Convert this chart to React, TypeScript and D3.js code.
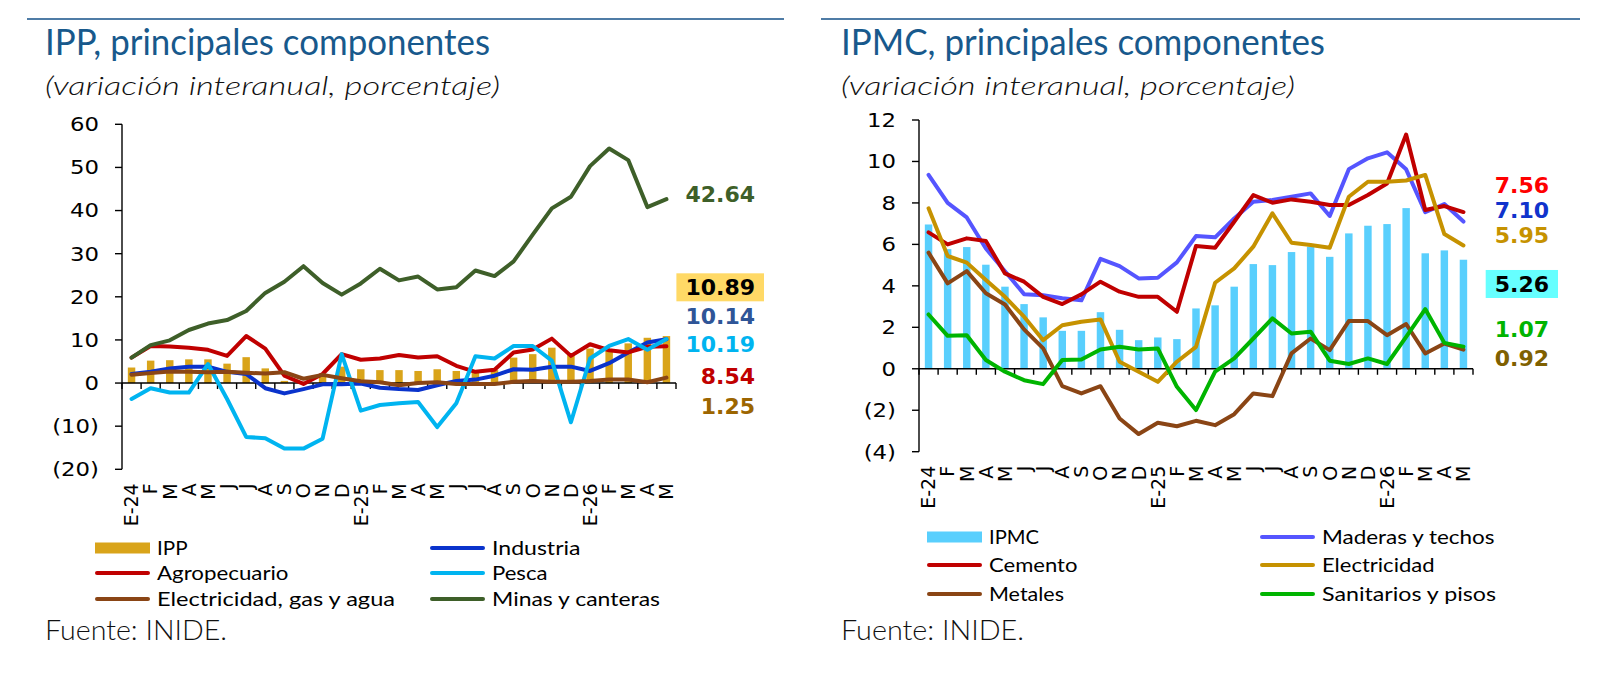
import React from "react";
import * as d3 from "d3";

// ---------- data ----------
const months = ["E-24","F","M","A","M","J","J","A","S","O","N","D","E-25","F","M","A","M","J","J","A","S","O","N","D","E-26","F","M","A","M"];

const ippTicks = [60, 50, 40, 30, 20, 10, 0, -10, -20];
const ipp = [3.6, 5.2, 5.3, 5.5, 5.5, 4.5, 6.0, 3.4, 0.5, 0.3, 1.4, 3.8, 3.2, 3.0, 3.0, 2.8, 3.2, 2.8, 2.5, 3.0, 5.9, 6.7, 8.2, 6.5, 8.0, 7.5, 9.2, 10.5, 10.89];
const industria = [2.1, 2.6, 3.4, 3.8, 3.8, 2.6, 2.1, -1.2, -2.4, -1.4, -0.3, -0.3, -0.1, -1.1, -1.4, -1.6, -0.5, 0.5, 0.8, 1.7, 3.2, 3.1, 3.8, 3.8, 2.8, 4.6, 7.1, 9.4, 10.14];
const agropecuario = [5.9, 8.6, 8.5, 8.2, 7.7, 6.3, 10.9, 8.0, 1.7, -0.2, 2.1, 6.7, 5.4, 5.7, 6.5, 5.9, 6.2, 4.0, 2.6, 3.1, 7.1, 7.8, 10.3, 6.3, 9.0, 7.6, 7.1, 8.4, 8.54];
const pesca = [-3.7, -1.2, -2.2, -2.2, 4.4, -3.7, -12.5, -12.8, -15.2, -15.2, -12.9, 6.7, -6.4, -5.1, -4.7, -4.4, -10.2, -4.7, 6.2, 5.7, 8.6, 8.6, 5.2, -9.1, 5.7, 8.6, 10.2, 7.7, 10.19];
const electricidadGasAgua = [1.9, 2.3, 2.7, 2.6, 2.5, 2.6, 2.4, 2.2, 2.5, 1.0, 1.9, 1.1, 0.4, 0.2, -0.5, 0.0, 0.2, -0.2, -0.2, -0.2, 0.3, 0.5, 0.3, 0.3, 0.5, 0.8, 0.8, 0.2, 1.25];
const minas = [5.9, 8.8, 9.9, 12.3, 13.8, 14.6, 16.7, 20.9, 23.5, 27.1, 23.2, 20.5, 23.1, 26.5, 23.8, 24.7, 21.7, 22.2, 26.1, 24.8, 28.2, 34.4, 40.5, 43.2, 50.3, 54.4, 51.7, 40.8, 42.64];

const ipmcTicks = [12, 10, 8, 6, 4, 2, 0, -2, -4];
const ipmc = [6.96, 5.77, 5.87, 5.02, 3.96, 3.12, 2.48, 1.83, 1.83, 2.73, 1.88, 1.38, 1.51, 1.43, 2.91, 3.06, 3.96, 5.05, 5.0, 5.63, 5.89, 5.4, 6.53, 6.9, 6.98, 7.75, 5.57, 5.71, 5.26];
const maderas = [9.35, 8.0, 7.3, 5.8, 4.7, 3.6, 3.55, 3.4, 3.3, 5.3, 4.95, 4.36, 4.39, 5.13, 6.4, 6.34, 7.25, 8.06, 8.14, 8.3, 8.46, 7.37, 9.63, 10.15, 10.44, 9.62, 7.55, 7.95, 7.1];
const cemento = [6.58, 6.0, 6.29, 6.16, 4.6, 4.2, 3.47, 3.12, 3.59, 4.2, 3.72, 3.47, 3.47, 2.75, 5.92, 5.84, 7.09, 8.38, 8.01, 8.17, 8.06, 7.9, 7.9, 8.38, 8.94, 11.3, 7.66, 7.85, 7.56];
const electricidad = [7.74, 5.44, 5.12, 4.28, 3.47, 2.51, 1.38, 2.1, 2.27, 2.38, 0.34, -0.14, -0.63, 0.34, 1.06, 4.15, 4.84, 5.89, 7.5, 6.08, 5.97, 5.84, 8.3, 9.02, 9.02, 9.08, 9.35, 6.5, 5.95];
const metales = [5.6, 4.12, 4.71, 3.64, 3.1, 1.9, 0.98, -0.84, -1.19, -0.84, -2.4, -3.15, -2.6, -2.77, -2.51, -2.72, -2.19, -1.19, -1.32, 0.74, 1.46, 0.9, 2.3, 2.3, 1.62, 2.16, 0.74, 1.22, 0.92];
const sanitarios = [2.62, 1.59, 1.62, 0.42, -0.14, -0.55, -0.74, 0.42, 0.45, 0.93, 1.06, 0.93, 0.98, -0.87, -1.99, -0.14, 0.5, 1.46, 2.43, 1.7, 1.79, 0.39, 0.23, 0.5, 0.23, 1.54, 2.88, 1.25, 1.07];

// end-of-series value labels (text, and value-space vertical slot)
const ippLabelTexts = ["42.64", "10.89", "10.14", "10.19", "8.54", "1.25"];
const ippLabelSlots = [43.9, 22.2, 15.5, 9.0, 1.6, -5.3];
const ipmcLabelTexts = ["7.56", "7.10", "5.95", "5.26", "1.07", "0.92"];
const ipmcLabelSlots = [8.87, 7.66, 6.45, 4.09, 1.92, 0.52];

// ---------- styles ----------
const TICK_FONT = "'DejaVu Sans', Verdana, sans-serif";
const TEXT_FONT = "Lato, 'Open Sans', sans-serif";
const TITLE_COLOR = "#18598C";
const RULE_COLOR = "#4F7CA6";

type Series = { name: string; values: number[]; color: string; kind: "bar" | "line"; legendWidth: number };
type Label = { text: string; slot: number; color: string; box?: string };

type PanelCfg = {
  title: string; titleLen: number; subLen: number; sourceLen: number;
  textX: number; rule: [number, number];
  xRange: [number, number]; yDomain: [number, number]; yRange: [number, number];
  ticks: number[]; series: Series[]; labels: Label[]; labelX: number;
  legendCols: number[]; legendRows: number[];
};

const leftCfg: PanelCfg = {
  title: "IPP, principales componentes", titleLen: 445, subLen: 455, sourceLen: 182,
  textX: 45, rule: [27, 784],
  xRange: [122, 676], yDomain: [-20, 60], yRange: [469.3, 124.3],
  ticks: ippTicks,
  series: [
    { name: "IPP", values: ipp, color: "#D9A41A", kind: "bar", legendWidth: 30.5 },
    { name: "Industria", values: industria, color: "#0A33CC", kind: "line", legendWidth: 88.5 },
    { name: "Agropecuario", values: agropecuario, color: "#C00000", kind: "line", legendWidth: 131.5 },
    { name: "Pesca", values: pesca, color: "#00B4F0", kind: "line", legendWidth: 55.5 },
    { name: "Electricidad, gas y agua", values: electricidadGasAgua, color: "#8A4515", kind: "line", legendWidth: 238 },
    { name: "Minas y canteras", values: minas, color: "#3E5F29", kind: "line", legendWidth: 168 },
  ],
  labels: [
    { text: ippLabelTexts[0], slot: ippLabelSlots[0], color: "#3E5F29" },
    { text: ippLabelTexts[1], slot: ippLabelSlots[1], color: "#000000", box: "#FFD966" },
    { text: ippLabelTexts[2], slot: ippLabelSlots[2], color: "#2F5597" },
    { text: ippLabelTexts[3], slot: ippLabelSlots[3], color: "#00B4F0" },
    { text: ippLabelTexts[4], slot: ippLabelSlots[4], color: "#C00000" },
    { text: ippLabelTexts[5], slot: ippLabelSlots[5], color: "#9C6500" },
  ],
  labelX: 755,
  legendCols: [95, 430], legendRows: [548, 573, 599],
};

const rightCfg: PanelCfg = {
  title: "IPMC, principales componentes", titleLen: 484, subLen: 454, sourceLen: 183,
  textX: 841, rule: [821, 1580],
  xRange: [919, 1473], yDomain: [-4, 12], yRange: [451.7, 120],
  ticks: ipmcTicks,
  series: [
    { name: "IPMC", values: ipmc, color: "#59CFFD", kind: "bar", legendWidth: 50 },
    { name: "Maderas y techos", values: maderas, color: "#5555FF", kind: "line", legendWidth: 172.5 },
    { name: "Cemento", values: cemento, color: "#C00000", kind: "line", legendWidth: 88.5 },
    { name: "Electricidad", values: electricidad, color: "#C69200", kind: "line", legendWidth: 112.5 },
    { name: "Metales", values: metales, color: "#8A4515", kind: "line", legendWidth: 75 },
    { name: "Sanitarios y pisos", values: sanitarios, color: "#00B400", kind: "line", legendWidth: 174 },
  ],
  labels: [
    { text: ipmcLabelTexts[0], slot: ipmcLabelSlots[0], color: "#FF0000" },
    { text: ipmcLabelTexts[1], slot: ipmcLabelSlots[1], color: "#1033CC" },
    { text: ipmcLabelTexts[2], slot: ipmcLabelSlots[2], color: "#C69200" },
    { text: ipmcLabelTexts[3], slot: ipmcLabelSlots[3], color: "#000000", box: "#66FFFF" },
    { text: ipmcLabelTexts[4], slot: ipmcLabelSlots[4], color: "#00B400" },
    { text: ipmcLabelTexts[5], slot: ipmcLabelSlots[5], color: "#7F6000" },
  ],
  labelX: 1549,
  legendCols: [927, 1260], legendRows: [537, 565, 594],
};

const fmtTick = (v: number) => (v < 0 ? `(${-v})` : `${v}`);

function Panel({ cfg }: { cfg: PanelCfg }) {
  const idx = d3.range(months.length);
  const x = d3.scaleBand<number>().domain(idx).range(cfg.xRange).paddingInner(0).paddingOuter(0);
  const y = d3.scaleLinear().domain(cfg.yDomain).range(cfg.yRange);
  const bw = x.bandwidth();
  const cx = (i: number) => (x(i) as number) + bw / 2;
  const line = d3.line<number>().x((_, i) => cx(i)).y((d) => y(d));
  const barW = bw * 0.39;
  const y0 = y(0);
  const yTop = y(cfg.yDomain[1]);
  const yBot = y(cfg.yDomain[0]);
  const boundaries = d3.range(months.length + 1).map((i) => cfg.xRange[0] + i * bw);
  const labelFs = 22;
  const textW = (s: string) => s.split("").reduce((a, c) => a + (c === "." ? 0.38 : 0.696), 0) * labelFs;

  return (
    <g>
      {/* header */}
      <line x1={cfg.rule[0]} x2={cfg.rule[1]} y1={19} y2={19} stroke={RULE_COLOR} strokeWidth={2} />
      <text x={cfg.textX} y={55} fontFamily={TEXT_FONT} fontSize={36} fill={TITLE_COLOR}
        textLength={cfg.titleLen} lengthAdjust="spacingAndGlyphs">{cfg.title}</text>
      <text x={cfg.textX} y={95} fontFamily={TEXT_FONT} fontStyle="italic" fontWeight={300} fontSize={26} fill="#111"
        textLength={cfg.subLen} lengthAdjust="spacingAndGlyphs">(variación interanual, porcentaje)</text>

      {/* bars */}
      {cfg.series.filter((s) => s.kind === "bar").map((s) => (
        <g key={s.name}>
          {s.values.map((v, i) => (
            <rect key={i} x={cx(i) - barW / 2} width={barW} y={Math.min(y(v), y0)} height={Math.abs(y(v) - y0)} fill={s.color} />
          ))}
        </g>
      ))}

      {/* axes */}
      <line x1={cfg.xRange[0]} x2={cfg.xRange[0]} y1={yTop} y2={yBot} stroke="#000" strokeWidth={1.4} />
      {cfg.ticks.map((t) => (
        <g key={t}>
          <line x1={cfg.xRange[0] - 7} x2={cfg.xRange[0]} y1={y(t)} y2={y(t)} stroke="#000" strokeWidth={1.4} />
          <text transform={`translate(${cfg.xRange[0] - 23},${y(t)}) scale(1.2,1)`} dy="0.36em" textAnchor="end"
            fontFamily={TICK_FONT} fontSize={19} fill="#000">{fmtTick(t)}</text>
        </g>
      ))}
      <line x1={cfg.xRange[0]} x2={cfg.xRange[1]} y1={y0} y2={y0} stroke="#000" strokeWidth={1.4} />
      {boundaries.map((b, i) => (
        <line key={i} x1={b} x2={b} y1={y0} y2={y0 + 6} stroke="#000" strokeWidth={1.4} />
      ))}
      {months.map((m, i) => (
        <text key={i} transform={`translate(${cx(i)},${yBot + 14}) rotate(-90)`} dy="0.36em" textAnchor="end"
          fontFamily={TICK_FONT} fontSize={19} fill="#000">{m}</text>
      ))}

      {/* lines */}
      {cfg.series.filter((s) => s.kind === "line").map((s) => (
        <path key={s.name} d={line(s.values) || ""} fill="none" stroke={s.color} strokeWidth={4}
          strokeLinejoin="round" strokeLinecap="round" />
      ))}

      {/* end labels */}
      {cfg.labels.map((l, i) => {
        const ly = y(l.slot);
        const w = textW(l.text);
        return (
          <g key={i}>
            {l.box && <rect x={cfg.labelX - w - 9} y={ly - 14} width={w + 18} height={28} fill={l.box} />}
            <text x={cfg.labelX} y={ly} dy="0.36em" textAnchor="end" fontFamily={TICK_FONT} fontWeight="bold"
              fontSize={labelFs} fill={l.color}>{l.text}</text>
          </g>
        );
      })}

      {/* legend */}
      {cfg.series.map((s, i) => {
        const col = i % 2;
        const row = Math.floor(i / 2);
        const lx = cfg.legendCols[col];
        const ly = cfg.legendRows[row];
        return (
          <g key={s.name}>
            {s.kind === "bar" ? (
              <rect x={lx} y={ly - 5.5} width={55} height={11} fill={s.color} />
            ) : (
              <line x1={lx + 2} x2={lx + 53} y1={ly} y2={ly} stroke={s.color} strokeWidth={4} strokeLinecap="round" />
            )}
            <text x={lx + 62} y={ly} dy="0.35em" fontFamily={TEXT_FONT} fontSize={20} fill="#000"
              textLength={s.legendWidth} lengthAdjust="spacingAndGlyphs">{s.name}</text>
          </g>
        );
      })}

      <text x={cfg.textX} y={640} fontFamily={TEXT_FONT} fontWeight={300} fontSize={27} fill="#111"
        textLength={cfg.sourceLen} lengthAdjust="spacingAndGlyphs">Fuente: INIDE.</text>
    </g>
  );
}

export default function App() {
  return (
    <svg width={1616} height={680} style={{ position: "absolute", left: 0, top: 0, background: "#fff" }}>
      <rect width={1616} height={680} fill="#fff" />
      <Panel cfg={leftCfg} />
      <Panel cfg={rightCfg} />
    </svg>
  );
}
